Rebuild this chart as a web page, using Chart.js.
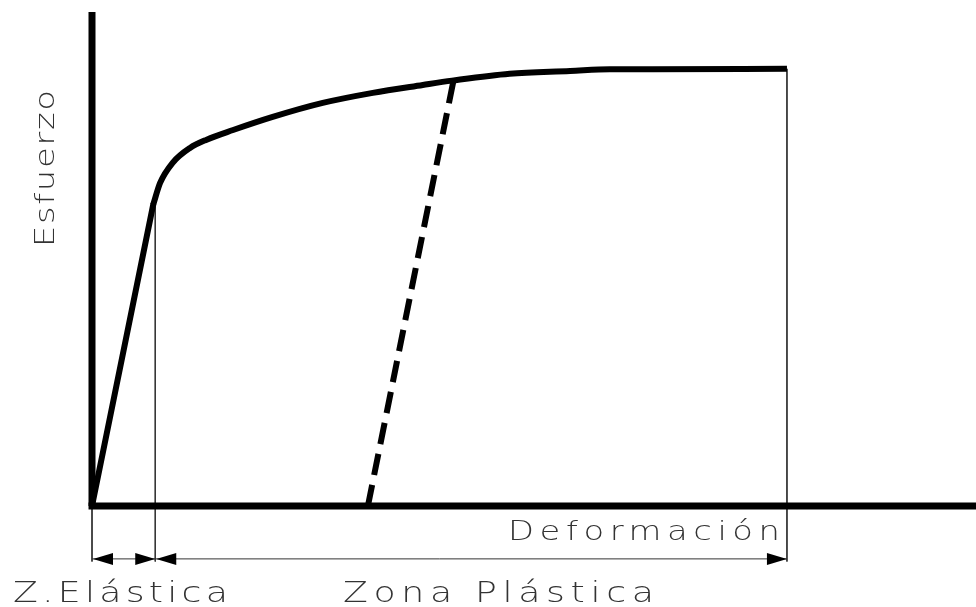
<!DOCTYPE html>
<html>
<head>
<meta charset="utf-8">
<script src="https://cdn.jsdelivr.net/npm/chart.js@4.4.1/dist/chart.umd.min.js"></script>
<style>
  html, body { margin: 0; padding: 0; background: #fff; }
  #wrap { width: 976px; height: 607px; }
</style>
</head>
<body>
<div id="wrap"><canvas id="c" width="976" height="607"></canvas></div>
<script>
// ---- data (strain in % of the end of the plastic zone, stress in % of the plateau) ----
const elasticStrain = [0, 8.8];
const elasticStress = [0, 68.9];

const plasticStrain = [8.8, 9.8, 11.6, 14.1, 16.5, 20.3, 26.0, 33.2, 40.4, 47.6, 51.8, 60.1, 68.8, 74.5, 80.3, 100];
const plasticStress = [68.9, 73.9, 78.5, 81.9, 83.8, 86.0, 89.0, 92.2, 94.5, 96.3, 97.3, 98.9, 99.5, 99.9, 99.9, 100];

const unloadStrain = [39.7, 52.0];
const unloadStress = [0, 97.2];

const zoneLimits = [0, 9.1, 100];        // dimension marks: start, end of elastic zone, end of plastic zone
const zoneLimitStress = [0, 68.9, 100];  // where each mark starts
const dimLevel = -12.1;                  // level of dimension line (below the axis)
const dimEnd = -12.7;

const axisMaxX = 127.2;
const axisMaxY = 113;

const labels = {
  y: "Esfuerzo",
  x: "Deformación",
  elastic: "Z.Elástica",
  plastic: "Zona Plástica"
};

// ---- build datasets ----
function pts(xs, ys) { return xs.map((x, i) => ({ x: x, y: ys[i] })); }

const datasets = [
  { data: [{x:0,y:0},{x:0,y:axisMaxY}], borderColor:'#000', borderWidth:7, borderCapStyle:'butt' },
  { data: [{x:-0.5,y:0},{x:axisMaxX,y:0}], borderColor:'#000', borderWidth:7, borderCapStyle:'butt' },
  { data: pts(elasticStrain, elasticStress), borderColor:'#000', borderWidth:6, tension:0, borderCapStyle:'round', borderJoinStyle:'round' },
  { data: pts(plasticStrain, plasticStress), borderColor:'#000', borderWidth:6, cubicInterpolationMode:'monotone', borderCapStyle:'butt', borderJoinStyle:'round' },
  { data: pts(unloadStrain, unloadStress), borderColor:'#000', borderWidth:6, borderDash:[21.6,10], borderCapStyle:'butt' }
];
zoneLimits.forEach((x, i) => {
  datasets.push({ data: [{x:x,y:zoneLimitStress[i]},{x:x,y:dimEnd}], borderColor:'#333', borderWidth:1 });
});
datasets.push({ data: [{x:zoneLimits[0],y:dimLevel},{x:zoneLimits[2],y:dimLevel}], borderColor:'#333', borderWidth:1 });
datasets.forEach(d => { d.pointRadius = 0; d.pointHoverRadius = 0; d.fill = false; d.clip = false; d.showLine = true; });

// ---- plugin for arrows and labels ----
const decor = {
  id: 'decor',
  afterDatasetsDraw(chart) {
    const ctx = chart.ctx, xs = chart.scales.x, ys = chart.scales.y;
    const yy = ys.getPixelForValue(dimLevel);
    function arrow(xv, dir) { // dir: -1 points left, +1 points right
      const tip = xs.getPixelForValue(xv) + (dir < 0 ? 1 : 0);
      ctx.beginPath();
      ctx.moveTo(tip, yy);
      ctx.lineTo(tip - dir * 20, yy - 6);
      ctx.lineTo(tip - dir * 20, yy + 6);
      ctx.closePath();
      ctx.fillStyle = '#000';
      ctx.fill();
    }
    ctx.save();
    arrow(zoneLimits[0], -1);
    arrow(zoneLimits[1], 1);
    arrow(zoneLimits[1], -1);
    arrow(zoneLimits[2], 1);

    const SX = 1.25;
    function spaced(text, x, y, width, size) {
      ctx.save();
      ctx.translate(x, y);
      ctx.scale(SX, 1);
      ctx.font = '200 ' + size + 'px "DejaVu Sans"';
      ctx.letterSpacing = '0px';
      const w = ctx.measureText(text).width;
      const sp = (width / SX - w) / (text.length - 1);
      ctx.letterSpacing = sp + 'px';
      ctx.fillStyle = '#333';
      ctx.textAlign = 'left';
      ctx.textBaseline = 'alphabetic';
      ctx.fillText(text, 0, 0);
      ctx.restore();
    }
    spaced(labels.x, 508, 540, 272, 27);
    spaced(labels.elastic, 13, 602, 215, 29);
    spaced(labels.plastic, 343, 602, 311, 29);
    ctx.save();
    ctx.translate(54, 247);
    ctx.rotate(-Math.PI / 2);
    spaced(labels.y, 0, 0, 157, 27);
    ctx.restore();
    ctx.restore();
  }
};

new Chart(document.getElementById('c'), {
  type: 'line',
  data: { datasets: datasets },
  options: {
    responsive: false,
    animation: false,
    events: [],
    layout: { padding: { left: 92, right: 0, top: 12, bottom: 101 } },
    plugins: { legend: { display: false }, tooltip: { enabled: false } },
    scales: {
      x: { type: 'linear', min: 0, max: axisMaxX, display: false },
      y: { type: 'linear', min: 0, max: axisMaxY, display: false }
    }
  },
  plugins: [decor]
});
</script>
</body>
</html>
